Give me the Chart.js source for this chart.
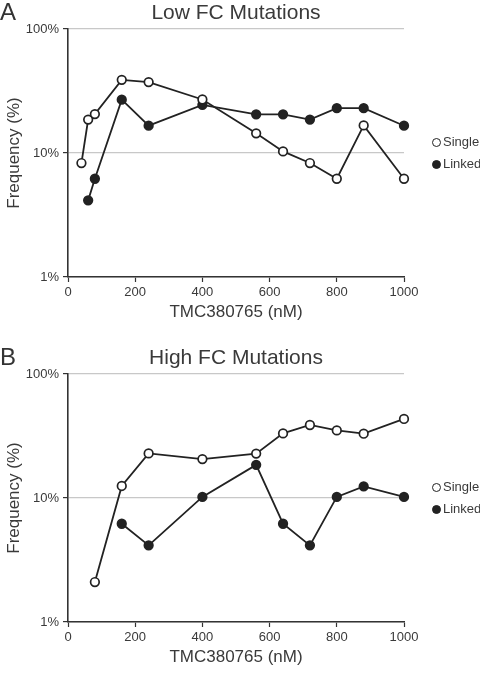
<!DOCTYPE html>
<html lang="en">
<head>
<meta charset="utf-8">
<script src="https://cdn.jsdelivr.net/npm/chart.js"></script>
<style>
  body { margin: 0; background: #fff; font-family: 'Liberation Sans', Arial, sans-serif; color: #3a3a3a; }
  #page { position: relative; width: 480px; height: 674px; overflow: hidden; }
  .panel { position: absolute; left: 0; width: 480px; height: 329px; }
  .panel canvas { position: absolute; left: 0; top: 0; }
  .letter { position: absolute; left: 0; top: 0; font-size: 24px; line-height: 24px; color: #333; }
  .title { position: absolute; left: 68px; width: 336px; top: 0; text-align: center; font-size: 21px; line-height: 24px; color: #3a3a3a; }
  .legend { position: absolute; left: 432px; top: 131px; font-size: 13px; line-height: 22px; color: #3a3a3a; }
  .legend div { white-space: nowrap; }
  .dot { display: inline-block; width: 9px; height: 9px; box-sizing: border-box; border-radius: 50%; border: 1.8px solid #222; margin-right: 2px; vertical-align: -1px; }
</style>
</head>
<body>
<div id="page">
  <div class="panel" style="top:0">
    <canvas id="lowChart" width="480" height="329"></canvas>
    <div class="letter">A</div>
    <div class="title">Low FC Mutations</div>
    <div class="legend">
      <div><span class="dot" style="background:#fff"></span>Single</div>
      <div><span class="dot" style="background:#222"></span>Linked</div>
    </div>
  </div>
  <div class="panel" style="top:345px">
    <canvas id="highChart" width="480" height="329"></canvas>
    <div class="letter">B</div>
    <div class="title">High FC Mutations</div>
    <div class="legend">
      <div><span class="dot" style="background:#fff"></span>Single</div>
      <div><span class="dot" style="background:#222"></span>Linked</div>
    </div>
  </div>
</div>

<script>
  // data (TMC380765 nM vs frequency %)
  const lowSingleX = [40, 60, 80, 160, 240, 400, 560, 640, 720, 800, 880, 1000];
  const lowSingle  = [8.3, 18.6, 20.6, 38.9, 37.3, 27, 14.4, 10.3, 8.3, 6.2, 16.7, 6.2];
  const lowLinkedX = [60, 80, 160, 240, 400, 560, 640, 720, 800, 880, 1000];
  const lowLinked  = [4.15, 6.2, 26.9, 16.6, 24.4, 20.5, 20.5, 18.6, 23, 23, 16.6];

  const highSingleX = [80, 160, 240, 400, 560, 640, 720, 800, 880, 1000];
  const highSingle  = [2.1, 12.5, 22.9, 20.6, 22.8, 33.2, 38.8, 35.1, 33, 43.4];
  const highLinkedX = [160, 240, 400, 560, 640, 720, 800, 880, 1000];
  const highLinked  = [6.2, 4.15, 10.2, 18.5, 6.2, 4.15, 10.2, 12.4, 10.2];

  const yTicks = [1, 10, 100];
  const xTicks = [0, 200, 400, 600, 800, 1000];

  const ink = '#222';
  const textColor = '#3a3a3a';

  function pairs(xs, ys) {
    return xs.map((x, i) => ({ x: x, y: ys[i] }));
  }

  function makeChart(id, sx, sy, lx, ly) {
    const ctx = document.getElementById(id).getContext('2d');
    return new Chart(ctx, {
      type: 'line',
      data: {
        datasets: [{
          label: 'Single',
          data: pairs(sx, sy),
          borderColor: ink,
          borderWidth: 1.8,
          pointRadius: 4.3,
          pointBorderWidth: 1.7,
          pointBackgroundColor: '#fff',
          pointBorderColor: ink,
          tension: 0,
          clip: false
        }, {
          label: 'Linked',
          data: pairs(lx, ly),
          borderColor: ink,
          borderWidth: 1.8,
          pointRadius: 4.3,
          pointBorderWidth: 1.7,
          pointBackgroundColor: ink,
          pointBorderColor: ink,
          tension: 0,
          clip: false
        }]
      },
      options: {
        responsive: false,
        animation: false,
        layout: { padding: { top: 29, right: 76, bottom: 0, left: 0 } },
        plugins: { legend: { display: false }, tooltip: { enabled: false } },
        scales: {
          x: {
            type: 'linear',
            min: 0,
            max: 1000,
            afterFit: s => { s.height = 52; },
            afterBuildTicks: s => { s.ticks = xTicks.map(v => ({ value: v })); },
            grid: { drawOnChartArea: false, drawTicks: true, tickLength: 5, tickColor: '#333', tickWidth: 1.2 },
            border: { display: true, color: '#333', width: 1.6 },
            ticks: { color: textColor, font: { family: 'Liberation Sans', size: 13 }, padding: 3, maxRotation: 0, callback: v => String(v) },
            title: { display: true, text: 'TMC380765 (nM)', color: textColor, font: { family: 'Liberation Sans', size: 17 }, padding: { top: 0, bottom: 6 } }
          },
          y: {
            type: 'logarithmic',
            min: 1,
            max: 100,
            afterFit: s => { s.width = 68; },
            afterBuildTicks: s => { s.ticks = yTicks.map(v => ({ value: v })); },
            grid: { color: '#c8c8c8', lineWidth: 1.2, drawTicks: true, tickLength: 5, tickColor: '#333', tickWidth: 1.2 },
            border: { display: true, color: '#333', width: 1.6 },
            ticks: { color: textColor, font: { family: 'Liberation Sans', size: 13 }, padding: 4, callback: v => v + '%' },
            title: { display: true, text: 'Frequency (%)', color: textColor, font: { family: 'Liberation Sans', size: 17 }, padding: { top: 4, bottom: 0 } }
          }
        }
      }
    });
  }

  makeChart('lowChart', lowSingleX, lowSingle, lowLinkedX, lowLinked);
  makeChart('highChart', highSingleX, highSingle, highLinkedX, highLinked);
</script>
</body>
</html>
